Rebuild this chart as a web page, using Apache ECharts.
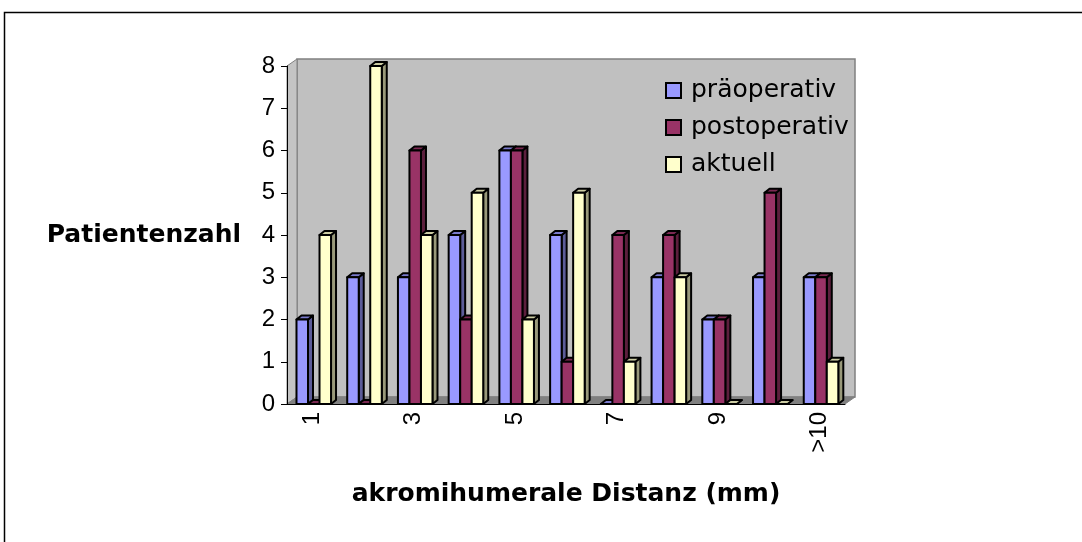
<!DOCTYPE html>
<html>
<head>
<meta charset="utf-8">
<script src="https://cdn.jsdelivr.net/npm/echarts@6/dist/echarts.min.js"></script>
<style>
html,body{margin:0;padding:0;background:#fff;}
#chart{width:1082px;height:542px;}
</style>
</head>
<body>
<div id="chart"></div>
<script>
const categories = ['1', '2', '3', '4', '5', '6', '7', '8', '9', '10', '>10'];
const seriesNames = ['präoperativ', 'postoperativ', 'aktuell'];
const praeoperativ = [2, 3, 3, 4, 6, 4, 0, 3, 2, 3, 3];
const postoperativ = [0, 0, 6, 2, 6, 1, 4, 4, 2, 5, 3];
const aktuell = [4, 8, 4, 5, 2, 5, 1, 3, 0, 0, 1];
const yMin = 0, yMax = 8, yInterval = 1;

const faceColors = [
  { front: '#9999FF', top: '#7A7ACC', side: '#5C5C99' },
  { front: '#993366', top: '#7A2952', side: '#5C1F3D' },
  { front: '#FFFFCC', top: '#CCCCA3', side: '#99997A' }
];
const BAR_DX = 5, BAR_DY = -4;
const WALL_DX = 10, WALL_DY = -7;

function barRenderer(k) {
  const c = faceColors[k];
  return function (params, api) {
    const idx = api.value(0), val = api.value(1);
    const base = api.coord([idx, 0]);
    const topP = api.coord([idx, val]);
    const band = api.size([1, 0])[0];
    const bw = band * 0.227;
    const x = base[0] - band / 2 + band * 0.187 + k * bw;
    const yT = topP[1], yB = base[1];
    const st = { stroke: '#000', lineWidth: 2, lineJoin: 'round' };
    return {
      type: 'group',
      children: [
        { type: 'polygon', shape: { points: [[x + bw, yT], [x + bw + BAR_DX, yT + BAR_DY], [x + bw + BAR_DX, yB + BAR_DY], [x + bw, yB]] }, style: Object.assign({ fill: c.side }, st) },
        { type: 'polygon', shape: { points: [[x, yT], [x + BAR_DX, yT + BAR_DY], [x + bw + BAR_DX, yT + BAR_DY], [x + bw, yT]] }, style: Object.assign({ fill: c.top }, st) },
        { type: 'rect', shape: { x: x, y: yT, width: bw, height: yB - yT }, style: Object.assign({ fill: c.front }, st) }
      ]
    };
  };
}

function wallRenderer(params, api) {
  const cs = params.coordSys;
  const x0 = cs.x, y0 = cs.y, xr = cs.x + cs.width, yb = cs.y + cs.height;
  return {
    type: 'group',
    children: [
      { type: 'rect', shape: { x: x0 + WALL_DX, y: y0 + WALL_DY, width: cs.width, height: cs.height }, style: { fill: '#C0C0C0', stroke: '#808080', lineWidth: 1.5 } },
      { type: 'polygon', shape: { points: [[x0, y0], [x0 + WALL_DX, y0 + WALL_DY], [x0 + WALL_DX, yb + WALL_DY], [x0, yb]] }, style: { fill: '#C4C4C4', stroke: '#808080', lineWidth: 1 } },
      { type: 'polygon', shape: { points: [[x0, yb], [x0 + WALL_DX, yb + WALL_DY], [xr + WALL_DX, yb + WALL_DY], [xr, yb]] }, style: { fill: '#808080', stroke: '#808080', lineWidth: 1 } }
    ]
  };
}

const dataSets = [praeoperativ, postoperativ, aktuell];
const chart = echarts.init(document.getElementById('chart'), null, { renderer: 'canvas' });

const series = [{
  type: 'custom',
  name: '_walls',
  z: 0,
  silent: true,
  renderItem: wallRenderer,
  data: [[0, 0]],
  encode: { x: 0, y: 1 }
}];
dataSets.forEach((arr, k) => {
  series.push({
    type: 'custom',
    name: seriesNames[k],
    z: 2,
    renderItem: barRenderer(k),
    itemStyle: { color: faceColors[k].front, borderColor: '#000', borderWidth: 2 },
    encode: { x: 0, y: 1 },
    data: arr.map((v, i) => [i, v])
  });
});

chart.setOption({
  animation: false,
  backgroundColor: '#fff',
  grid: { left: 287, right: 237, top: 66, bottom: 138, containLabel: false },
  legend: {
    orient: 'vertical',
    left: 660,
    top: 73,
    itemWidth: 15,
    itemHeight: 15,
    itemGap: 12,
    icon: 'rect',
    textStyle: { fontFamily: 'DejaVu Sans', fontSize: 25, color: '#000', lineHeight: 24, padding: [0, 0, 0, 5] },
    data: seriesNames.map((n, k) => ({ name: n, itemStyle: { color: faceColors[k].front, borderColor: '#000', borderWidth: 2 } }))
  },
  xAxis: {
    type: 'category',
    data: categories,
    z: 5,
    boundaryGap: true,
    axisLine: { lineStyle: { color: '#000', width: 1 } },
    axisTick: { interval: 0, length: 6, lineStyle: { color: '#000' } },
    axisLabel: { interval: 1, rotate: 90, margin: 8, fontFamily: 'Liberation Sans', fontSize: 24, color: '#000' },
    splitLine: { show: false },
    name: 'akromihumerale Distanz (mm)',
    nameLocation: 'middle',
    nameGap: 78,
    nameTextStyle: { fontFamily: 'DejaVu Sans', fontWeight: 'bold', fontSize: 25, color: '#000' }
  },
  yAxis: {
    type: 'value',
    min: yMin,
    max: yMax,
    interval: yInterval,
    z: 5,
    axisLine: { show: true, lineStyle: { color: '#000', width: 1 } },
    axisTick: { show: true, length: 6, lineStyle: { color: '#000' } },
    axisLabel: { margin: 12, fontFamily: 'Liberation Sans', fontSize: 24, color: '#000' },
    splitLine: { show: false },
    name: 'Patientenzahl',
    nameLocation: 'middle',
    nameRotate: 0,
    nameGap: 46,
    nameTextStyle: { fontFamily: 'DejaVu Sans', fontWeight: 'bold', fontSize: 25, color: '#000', align: 'right', verticalAlign: 'middle' }
  },
  graphic: [{
    type: 'rect',
    z: 10,
    silent: true,
    shape: { x: 4.5, y: 12.5, width: 1200, height: 700 },
    style: { fill: 'none', stroke: '#000', lineWidth: 1.5 }
  }],
  series: series
});
</script>
</body>
</html>
